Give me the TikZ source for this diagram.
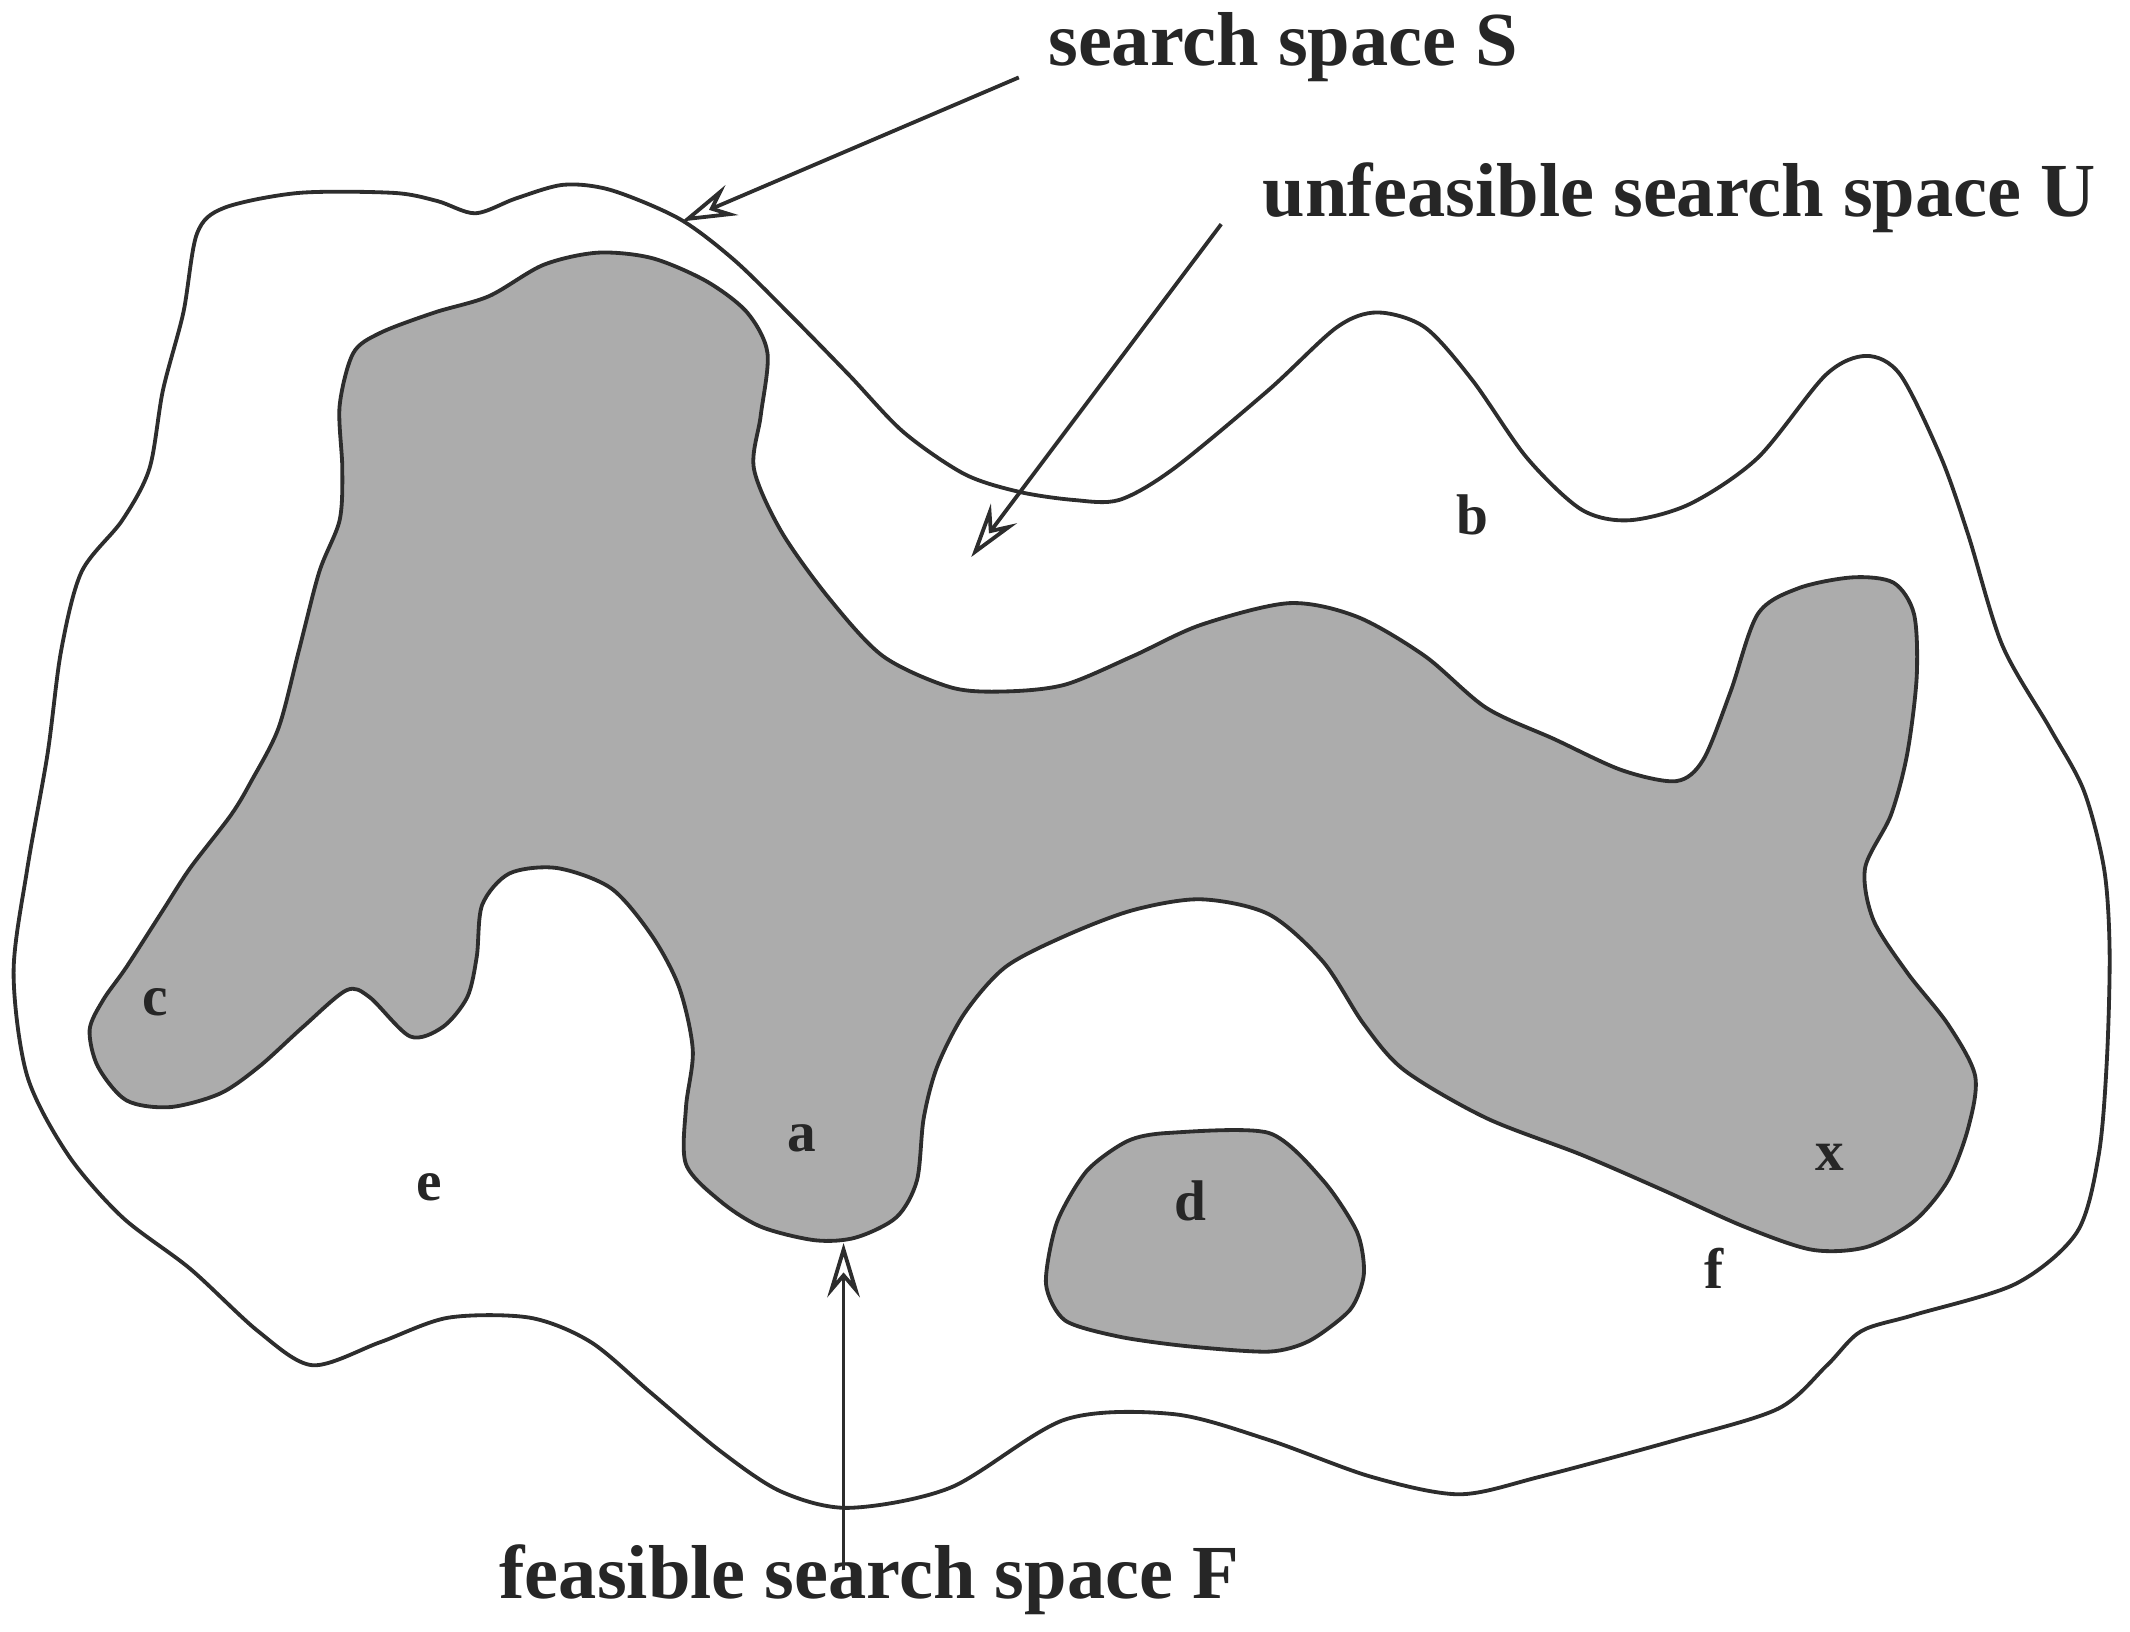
\documentclass[tikz,border=0pt]{standalone}
\usepackage{fontspec}
\setmainfont{Liberation Serif}
\usetikzlibrary{arrows.meta}
\definecolor{linecol}{RGB}{45,45,45}
\definecolor{feasgray}{RGB}{172,172,172}
\begin{document}
\begin{tikzpicture}[x=0.01cm,y=-0.01cm,line join=round,
  region/.style={draw=linecol,line width=0.8pt},
  feas/.style={region,fill=feasgray},
  ptr/.style={draw=linecol,line width=0.8pt,-{Stealth[open,length=4mm,width=2.4mm,inset=1.4mm]}},
  caption/.style={font=\bfseries\fontsize{16}{19}\selectfont,inner sep=0pt,anchor=base west,text=black!85},
  lbl/.style={font=\bfseries\fontsize{12}{14}\selectfont,inner sep=0pt,text=black!85}]
\useasboundingbox (0,0) rectangle (1568,1201.4);

% search space S (outer boundary)
\draw[region] plot[smooth cycle,tension=0.5] coordinates {
 (145,172) (165,153) (220,142) (290,142) (322,148) (350,157) (380,146) (415,136)
 (450,140) (500,161) (540,191) (580,230) (625,276) (665,318) (710,349) (750,362)
 (790,368) (824,368) (864,345) (934,287) (984,241) (1014,230) (1049,241) (1084,280)
 (1124,337) (1164,375) (1199,383) (1244,371) (1294,337) (1344,276) (1374,262)
 (1399,276) (1429,337) (1449,394) (1474,475) (1509,536) (1534,582) (1549,640)
 (1553,700) (1551,780) (1545,850) (1529,907) (1484,945) (1409,968) (1370,980)
 (1345,1005) (1309,1037) (1234,1060) (1134,1087) (1074,1100) (1009,1087) (934,1060)
 (864,1041) (784,1045) (700,1095) (625,1110) (575,1098) (530,1068) (480,1026)
 (435,988) (390,970) (330,970) (280,988) (230,1005) (190,980) (140,934) (90,896)
 (50,850) (20,792) (10,716) (20,640) (35,555) (45,479) (60,421) (90,383) (110,345)
 (120,287) (135,230)};

% feasible region, main part
\draw[feas] plot[smooth cycle,tension=0.5] coordinates {
 (260,260) (280,245) (320,230) (360,218) (400,195) (440,186) (480,190) (520,207)
 (550,230) (565,260) (560,306) (555,345) (575,391) (610,440) (650,483) (700,506)
 (740,509) (784,504) (834,483) (884,460) (949,444) (999,454) (1049,483) (1094,521)
 (1144,544) (1194,567) (1234,575) (1254,559) (1274,509) (1294,452) (1324,433)
 (1364,425) (1394,429) (1409,452) (1411,498) (1404,555) (1392,600) (1373,639)
 (1379,677) (1404,716) (1434,754) (1454,792) (1449,830) (1434,869) (1409,899)
 (1374,918) (1334,920) (1284,903) (1224,876) (1164,850) (1094,823) (1034,788)
 (1004,754) (974,708) (934,673) (884,662) (834,670) (784,689) (740,712) (710,746)
 (690,785) (680,823) (675,869) (660,896) (630,911) (600,913) (560,903) (530,884)
 (505,857) (505,815) (510,773) (500,727) (480,689) (450,654) (410,639) (375,643)
 (355,666) (351,704) (344,734) (326,756) (302,763) (272,734) (255,729) (223,756)
 (191,785) (162,805) (125,815) (93,810) (72,785) (66,758) (76,736) (93,712)
 (120,670) (140,639) (170,600) (185,575) (205,536) (220,479) (235,421) (250,383)
 (252,345) (250,299)};

% feasible region, island d
\draw[feas] plot[smooth cycle,tension=0.45] coordinates {
 (830,840) (860,834) (934,834) (974,869) (999,907) (1004,938) (994,964) (964,987)
 (934,995) (874,991) (824,984) (784,972) (770,945) (778,900) (800,862)};

% labels of points
\node[lbl] (b) at (1084,379) {b};
\node[lbl] (c) at (114,738) {c};
\node[lbl] (e) at (316,874) {e};
\node[lbl] (a) at (590,838) {a};
\node[lbl] (d) at (876,884) {d};
\node[lbl] (x) at (1347,852) {x};
\node[lbl] (f) at (1262,934) {f};

% captions
\node[caption] (S) at (771,48) {search space S};
\node[caption] (U) at (929,159) {unfeasible search space U};
\node[caption] (F) at (367,1177) {feasible search space F};

% arrow end points
\coordinate (Sstart) at (750,57);
\coordinate (Stip) at (502,163);
\coordinate (Ustart) at (899,165);
\coordinate (Utip) at (715,410);
\coordinate (Fstart) at (621,1156);
\coordinate (Ftip) at (621,915);

\draw[ptr] (Sstart) -- (Stip);
\draw[ptr] (Ustart) -- (Utip);
\draw[ptr] (Fstart) -- (Ftip);
\end{tikzpicture}
\end{document}
